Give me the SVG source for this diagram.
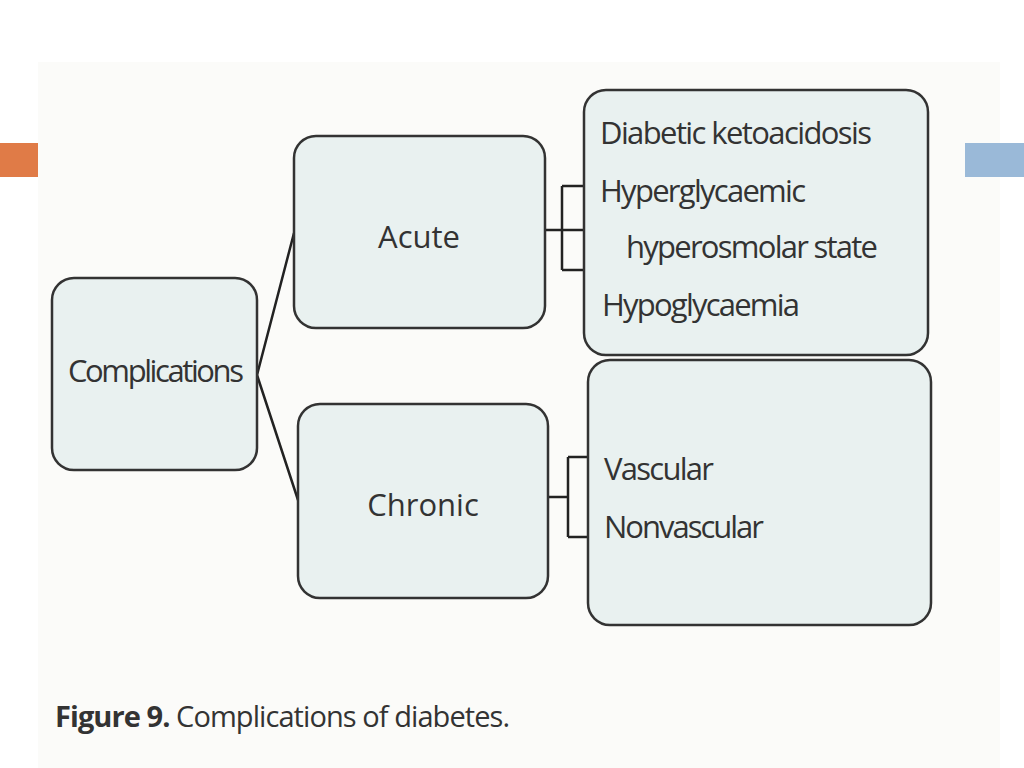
<svg xmlns="http://www.w3.org/2000/svg" width="1024" height="768" viewBox="0 0 1024 768">
<style>
.box{fill:#e9f1f0;stroke:#333;stroke-width:2.5}
.t{font-family:"Open Sans","Liberation Sans",sans-serif;font-size:31px;fill:#333}
.ln{stroke:#222;stroke-width:2.5;fill:none}
</style>
<rect width="1024" height="768" fill="#fff"/>
<rect x="38" y="62" width="962" height="706" fill="#fbfbf9"/>
<rect x="0" y="143" width="38" height="34" fill="#e07b47"/>
<rect x="965" y="143" width="59" height="34" fill="#9ab9d8"/>
<g id="connectors">
<path class="ln" d="M257,375 L294,233 M257,375 L298,500"/>
<path class="ln" d="M545,230 H562 M562,186 V270 M562,186 H584 M562,230 H584 M562,270 H584"/>
<path class="ln" d="M548,497 H568 M568,457 V537 M568,457 H588 M568,537 H588"/>
</g>
<g id="complications"><rect class="box" x="52" y="278" width="205" height="192" rx="22"/><text class="t" x="156" y="382" text-anchor="middle" textLength="176">Complications</text></g>
<g id="acute"><rect class="box" x="294" y="136" width="251" height="192" rx="22"/><text class="t" x="419" y="248" text-anchor="middle">Acute</text></g>
<g id="chronic"><rect class="box" x="298" y="404" width="250" height="194" rx="22"/><text class="t" x="423" y="516" text-anchor="middle">Chronic</text></g>
<g id="acute-list"><rect class="box" x="584" y="90" width="344" height="265" rx="22"/>
<text class="t" x="600" y="144" textLength="272">Diabetic ketoacidosis</text>
<text class="t" x="600" y="202" textLength="206">Hyperglycaemic</text>
<text class="t" x="626" y="258" textLength="252">hyperosmolar state</text>
<text class="t" x="602" y="316" textLength="198">Hypoglycaemia</text></g>
<g id="chronic-list"><rect class="box" x="588" y="360" width="343" height="265" rx="22"/>
<text class="t" x="604" y="480" textLength="110">Vascular</text>
<text class="t" x="604" y="538" textLength="160">Nonvascular</text></g>
<text class="t" x="55" y="727" style="font-size:29px" textLength="455"><tspan font-weight="bold">Figure 9.</tspan> Complications of diabetes.</text>
</svg>
